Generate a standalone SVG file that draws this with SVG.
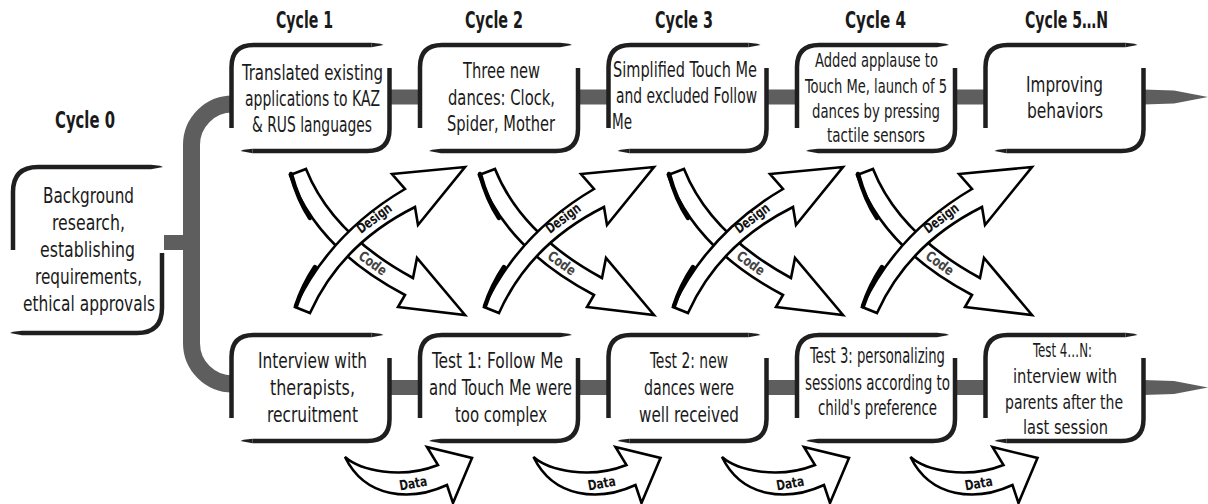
<svg xmlns="http://www.w3.org/2000/svg" xmlns:xlink="http://www.w3.org/1999/xlink" width="1208" height="504" viewBox="0 0 1208 504">
<style>
.nd{fill:none;stroke:#1f1f1f;stroke-width:4.5}
.tip{fill:#1f1f1f}
.t{font-family:"Liberation Sans Narrow","DejaVu Sans Condensed",Roboto,sans-serif;font-size:22px;fill:#1a1a1a;text-anchor:middle}
.sm{font-size:20px}
.s{text-anchor:start}
.lbl{font-weight:bold;font-size:23px}
.conn{fill:#5e5e5e}
.br{fill:none;stroke:#5e5e5e;stroke-width:17}
.band{fill:#fff;stroke:#000;stroke-width:2.6;stroke-linejoin:miter}
.thk{fill:none;stroke:#000;stroke-width:4.5;stroke-linecap:round}
.bt{font-family:"Liberation Sans Narrow","DejaVu Sans Condensed",Roboto,sans-serif;font-size:14px;font-weight:bold;fill:#111;text-anchor:middle}
.ct{fill:#444}
</style>
<defs>
<g id="node">
<path class="nd" d="M0,83 V22 Q0,0 22,0 H140 M158,23 V84 Q158,106 136,106 H21"/>
<polygon class="tip" points="140,-2.25 149,-1.2 152,0 140,2.25"/>
<polygon class="tip" points="21,103.75 12,104.8 9,106 21,108.25"/>
</g>
</defs>

<g id="connectors">
<path class="br" d="M233,104 A41,41 0 0 0 191.5,145 V343 A41,41 0 0 0 233,384"/>
<rect class="conn" x="164" y="235" width="28" height="15"/>
<rect class="conn" x="389" y="89.5" width="32" height="15"/>
<rect class="conn" x="578" y="89.5" width="32" height="15"/>
<rect class="conn" x="766" y="89.5" width="32" height="15"/>
<rect class="conn" x="955" y="89.5" width="32" height="15"/>
<polygon class="conn" points="1143,89.5 1174,90.5 1208,97 1174,103.5 1143,104.5"/>
<rect class="conn" x="389" y="380" width="32" height="15"/>
<rect class="conn" x="578" y="380" width="32" height="15"/>
<rect class="conn" x="766" y="380" width="32" height="15"/>
<rect class="conn" x="955" y="380" width="32" height="15"/>
<polygon class="conn" points="1143,380 1174,381 1208,387.5 1174,394 1143,395"/>
</g>

<g id="labels">
<text class="t lbl" x="85" y="128" textLength="60" lengthAdjust="spacingAndGlyphs">Cycle 0</text>
<text class="t lbl" x="304.5" y="28" textLength="57" lengthAdjust="spacingAndGlyphs">Cycle 1</text>
<text class="t lbl" x="494" y="28" textLength="58" lengthAdjust="spacingAndGlyphs">Cycle 2</text>
<text class="t lbl" x="684" y="28" textLength="58" lengthAdjust="spacingAndGlyphs">Cycle 3</text>
<text class="t lbl" x="875.5" y="28" textLength="61" lengthAdjust="spacingAndGlyphs">Cycle 4</text>
<text class="t lbl" x="1066.5" y="28" textLength="83" lengthAdjust="spacingAndGlyphs">Cycle 5…N</text>
</g>

<g id="cycle0">
<path class="nd" d="M13,250 V192 Q13,167 38,167 H151 M162,253 V308 Q162,333 137,333 H22"/>
<polygon class="tip" points="151,164.75 160,165.8 163,167 151,169.25"/>
<polygon class="tip" points="22,330.75 13,331.8 10,333 22,335.25"/>
<text class="t" x="88.5" y="203" textLength="91" lengthAdjust="spacingAndGlyphs">Background</text>
<text class="t" x="88.5" y="230" textLength="73" lengthAdjust="spacingAndGlyphs">research,</text>
<text class="t" x="87.5" y="257" textLength="95" lengthAdjust="spacingAndGlyphs">establishing</text>
<text class="t" x="88.5" y="284" textLength="107" lengthAdjust="spacingAndGlyphs">requirements,</text>
<text class="t" x="89" y="311" textLength="132" lengthAdjust="spacingAndGlyphs">ethical approvals</text>
</g>

<g id="cycle1">
<use xlink:href="#node" href="#node" x="231.5" y="45"/>
<text class="t" x="312.5" y="80" textLength="141" lengthAdjust="spacingAndGlyphs">Translated  existing</text>
<text class="t" x="312.5" y="106" textLength="135" lengthAdjust="spacingAndGlyphs">applications to KAZ</text>
<text class="t" x="312" y="132" textLength="120" lengthAdjust="spacingAndGlyphs">&amp; RUS languages</text>
</g>

<g id="cycle2">
<use xlink:href="#node" href="#node" x="420" y="45"/>
<text class="t" x="501.5" y="78" textLength="77" lengthAdjust="spacingAndGlyphs">Three new</text>
<text class="t" x="501.5" y="105" textLength="107" lengthAdjust="spacingAndGlyphs">dances: Clock,</text>
<text class="t" x="501" y="131" textLength="108" lengthAdjust="spacingAndGlyphs">Spider, Mother</text>
</g>

<g id="cycle3">
<use xlink:href="#node" href="#node" x="608.5" y="45"/>
<text class="t s" x="613" y="77" textLength="144" lengthAdjust="spacingAndGlyphs">Simplified Touch Me</text>
<text class="t s" x="616" y="103" textLength="141" lengthAdjust="spacingAndGlyphs">and excluded Follow</text>
<text class="t s" x="612" y="129" textLength="20" lengthAdjust="spacingAndGlyphs">Me</text>
</g>

<g id="cycle4">
<use xlink:href="#node" href="#node" x="797" y="45"/>
<text class="t sm" x="876.5" y="67" textLength="123" lengthAdjust="spacingAndGlyphs">Added  applause to</text>
<text class="t sm" x="876" y="93" textLength="142" lengthAdjust="spacingAndGlyphs">Touch Me, launch of 5</text>
<text class="t sm" x="876" y="118" textLength="128" lengthAdjust="spacingAndGlyphs">dances by pressing</text>
<text class="t sm" x="876" y="142" textLength="98" lengthAdjust="spacingAndGlyphs">tactile sensors</text>
</g>

<g id="cycle5">
<use xlink:href="#node" href="#node" x="985.5" y="45"/>
<text class="t" x="1064.5" y="92" textLength="77" lengthAdjust="spacingAndGlyphs">Improving</text>
<text class="t" x="1065" y="118" textLength="76" lengthAdjust="spacingAndGlyphs">behaviors</text>
</g>

<g id="interview">
<use xlink:href="#node" href="#node" x="231.5" y="335"/>
<text class="t" x="312.5" y="368" textLength="109" lengthAdjust="spacingAndGlyphs">Interview with</text>
<text class="t" x="312.5" y="395" textLength="85" lengthAdjust="spacingAndGlyphs">therapists,</text>
<text class="t" x="312.5" y="422" textLength="91" lengthAdjust="spacingAndGlyphs">recruitment</text>
</g>

<g id="test1">
<use xlink:href="#node" href="#node" x="420" y="335"/>
<text class="t" x="497.5" y="368" textLength="131" lengthAdjust="spacingAndGlyphs">Test 1: Follow Me</text>
<text class="t" x="500.5" y="395" textLength="143" lengthAdjust="spacingAndGlyphs">and Touch Me were</text>
<text class="t" x="501" y="422" textLength="92" lengthAdjust="spacingAndGlyphs">too complex</text>
</g>

<g id="test2">
<use xlink:href="#node" href="#node" x="608.5" y="335"/>
<text class="t" x="689" y="368" textLength="78" lengthAdjust="spacingAndGlyphs">Test 2: new</text>
<text class="t" x="689" y="395" textLength="90" lengthAdjust="spacingAndGlyphs">dances were</text>
<text class="t" x="689" y="422" textLength="100" lengthAdjust="spacingAndGlyphs">well received</text>
</g>

<g id="test3">
<use xlink:href="#node" href="#node" x="797" y="335"/>
<text class="t" x="877.5" y="363" textLength="135" lengthAdjust="spacingAndGlyphs">Test 3: personalizing</text>
<text class="t" x="877.5" y="390" textLength="145" lengthAdjust="spacingAndGlyphs">sessions according to</text>
<text class="t" x="877.5" y="415" textLength="119" lengthAdjust="spacingAndGlyphs">child's preference</text>
</g>

<g id="test4">
<use xlink:href="#node" href="#node" x="985.5" y="335"/>
<text class="t sm" x="1062.5" y="357" textLength="59" lengthAdjust="spacingAndGlyphs">Test 4…N:</text>
<text class="t sm" x="1065" y="383" textLength="104" lengthAdjust="spacingAndGlyphs">interview with</text>
<text class="t sm" x="1064" y="409" textLength="118" lengthAdjust="spacingAndGlyphs">parents after the</text>
<text class="t sm" x="1065.5" y="434" textLength="85" lengthAdjust="spacingAndGlyphs">last session</text>
</g>

<g id="cross1" transform="translate(270,160)">
<path class="band" d="M20,15 Q46,88 135,135 L128,147 L195,155 L147,98 L143,118 Q62,74 36,9 Z"/>
<path class="thk" d="M21,14 Q28,40 40,58"/>
<path class="band" d="M40,153 Q71,84 145,47 L148,65 L195,7 L122,14 L135,29 Q60,73 25,147 Z"/>
<path class="thk" d="M26,146 Q33,125 45,107"/>
<text class="bt" transform="translate(107,62) rotate(-37)" textLength="40" lengthAdjust="spacingAndGlyphs">Design</text>
<text class="bt ct" transform="translate(100,107) rotate(36)" textLength="31" lengthAdjust="spacingAndGlyphs">Code</text>
</g>
<g id="cross2" transform="translate(459,160)">
<path class="band" d="M20,15 Q46,88 135,135 L128,147 L195,155 L147,98 L143,118 Q62,74 36,9 Z"/>
<path class="thk" d="M21,14 Q28,40 40,58"/>
<path class="band" d="M40,153 Q71,84 145,47 L148,65 L195,7 L122,14 L135,29 Q60,73 25,147 Z"/>
<path class="thk" d="M26,146 Q33,125 45,107"/>
<text class="bt" transform="translate(107,62) rotate(-37)" textLength="40" lengthAdjust="spacingAndGlyphs">Design</text>
<text class="bt ct" transform="translate(100,107) rotate(36)" textLength="31" lengthAdjust="spacingAndGlyphs">Code</text>
</g>
<g id="cross3" transform="translate(648,160)">
<path class="band" d="M20,15 Q46,88 135,135 L128,147 L195,155 L147,98 L143,118 Q62,74 36,9 Z"/>
<path class="thk" d="M21,14 Q28,40 40,58"/>
<path class="band" d="M40,153 Q71,84 145,47 L148,65 L195,7 L122,14 L135,29 Q60,73 25,147 Z"/>
<path class="thk" d="M26,146 Q33,125 45,107"/>
<text class="bt" transform="translate(107,62) rotate(-37)" textLength="40" lengthAdjust="spacingAndGlyphs">Design</text>
<text class="bt ct" transform="translate(100,107) rotate(36)" textLength="31" lengthAdjust="spacingAndGlyphs">Code</text>
</g>
<g id="cross4" transform="translate(837,160)">
<path class="band" d="M20,15 Q46,88 135,135 L128,147 L195,155 L147,98 L143,118 Q62,74 36,9 Z"/>
<path class="thk" d="M21,14 Q28,40 40,58"/>
<path class="band" d="M40,153 Q71,84 145,47 L148,65 L195,7 L122,14 L135,29 Q60,73 25,147 Z"/>
<path class="thk" d="M26,146 Q33,125 45,107"/>
<text class="bt" transform="translate(107,62) rotate(-37)" textLength="40" lengthAdjust="spacingAndGlyphs">Design</text>
<text class="bt ct" transform="translate(100,107) rotate(36)" textLength="31" lengthAdjust="spacingAndGlyphs">Code</text>
</g>

<g id="data1">
<path class="band" d="M345,457 C360,470 400,480 438,465 L427,447 L472,458 L453,503 L447,485 C410,502 365,498 345,457 Z"/>
<text class="bt" transform="translate(414,488) rotate(-10)" textLength="28" lengthAdjust="spacingAndGlyphs">Data</text>
</g>
<g id="data2" transform="translate(188.5,0)">
<path class="band" d="M345,457 C360,470 400,480 438,465 L427,447 L472,458 L453,503 L447,485 C410,502 365,498 345,457 Z"/>
<text class="bt" transform="translate(414,488) rotate(-10)" textLength="28" lengthAdjust="spacingAndGlyphs">Data</text>
</g>
<g id="data3" transform="translate(377,0)">
<path class="band" d="M345,457 C360,470 400,480 438,465 L427,447 L472,458 L453,503 L447,485 C410,502 365,498 345,457 Z"/>
<text class="bt" transform="translate(414,488) rotate(-10)" textLength="28" lengthAdjust="spacingAndGlyphs">Data</text>
</g>
<g id="data4" transform="translate(565.5,0)">
<path class="band" d="M345,457 C360,470 400,480 438,465 L427,447 L472,458 L453,503 L447,485 C410,502 365,498 345,457 Z"/>
<text class="bt" transform="translate(414,488) rotate(-10)" textLength="28" lengthAdjust="spacingAndGlyphs">Data</text>
</g>
</svg>
